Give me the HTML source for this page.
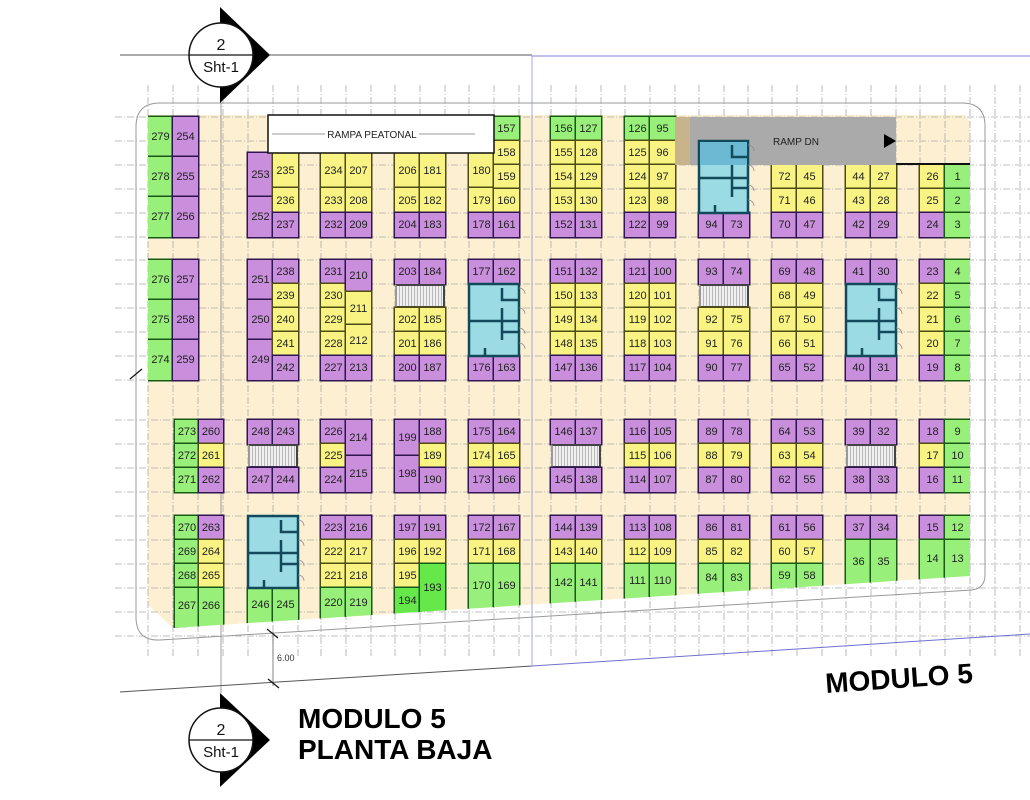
<!DOCTYPE html>
<html><head><meta charset="utf-8"><style>
body{margin:0;background:#fff;width:1030px;height:800px;overflow:hidden;position:relative;font-family:"Liberation Sans",sans-serif}
svg{position:absolute;left:0;top:0}
#cells{position:absolute;left:0;top:0;width:1030px;height:800px;clip-path:polygon(148px 115px,965px 115px,970px 122px,970px 576px,173px 628px,148px 605px)}
i{position:absolute;width:25px;height:24px;display:flex;align-items:center;justify-content:center;font-style:normal;font-size:11px;color:#222;box-sizing:border-box}
.p{background:#c98fdc;box-shadow:0 0 0 1.5px #2e1450}
.y{background:#f8f382;box-shadow:0 0 0 1.5px #4d4a12}
.g{background:#98f07a;box-shadow:0 0 0 1.5px #165a16}
.G{background:#66e84a;box-shadow:0 0 0 1.5px #165a16}
.s{position:absolute;height:24px;width:50px;background:repeating-linear-gradient(90deg,#f0f0f0 0 2px,#b8b8b8 2px 3px);border:2px solid #444;box-sizing:border-box;border-left-color:#999}
</style></head><body>
<svg width="1030" height="800">
<path d="M160 103H962Q985 103 985 126V575Q985 588 972 590L160 640Q136 641 136 617V127Q136 103 160 103Z" fill="none" stroke="#999" stroke-width="1"/>
<polygon points="148,115 965,115 970,122 970,576 173,628 148,605" fill="#fdefd2"/>
<g stroke="#aaa" stroke-width="0.8" stroke-dasharray="7 2 1 2">
<path d="M148 85V657M173 85V657M198 85V657M223 85V657M248 85V657M273 85V657M298 85V657M321 85V657M346 85V657M371 85V657M395 85V657M420 85V657M445 85V657M469 85V657M494 85V657M519 85V657M551 85V657M576 85V657M601 85V657M625 85V657M650 85V657M675 85V657M699 85V657M724 85V657M748 85V657M772 85V657M797 85V657M822 85V657M846 85V657M871 85V657M896 85V657M920 85V657M945 85V657M970 85V657M995 85V657M1020 85V657"/>
<path d="M115 117H1030M115 141H1030M115 165H1030M115 189H1030M115 213H1030M115 237H1030M115 260H1030M115 284H1030M115 308H1030M115 332H1030M115 356H1030M115 380H1030M115 420H1030M115 444H1030M115 468H1030M115 492H1030M115 516H1030M115 540H1030M115 564H1030M115 588H1030M115 612H1030M115 636H1030"/>
</g>
<line x1="221" y1="103" x2="221" y2="693" stroke="#888" stroke-width="0.8"/>
</svg>
<div id="cells">
<i class=g style=left:148px;top:117px;height:40px>279</i><i class=p style=left:173px;top:117px;height:40px>254</i>
<i class=g style=left:148px;top:157px;height:40px>278</i><i class=p style=left:173px;top:157px;height:40px>255</i>
<i class=g style=left:148px;top:197px;height:40px>277</i><i class=p style=left:173px;top:197px;height:40px>256</i>
<i class=p style=left:248px;top:153px;height:44px>253</i><i class=p style=left:248px;top:197px;height:40px>252</i>
<i class=y style=left:273px;top:153px;height:35px>235</i><i class=y style=left:273px;top:188px;height:25px>236</i><i class=p style=left:273px;top:213px>237</i>
<i class=y style=left:321px;top:153px;height:35px>234</i><i class=y style=left:346px;top:153px;height:35px>207</i>
<i class=y style=left:321px;top:188px;height:25px>233</i><i class=y style=left:346px;top:188px;height:25px>208</i>
<i class=p style=left:321px;top:213px>232</i><i class=p style=left:346px;top:213px>209</i>
<i class=y style=left:395px;top:153px;height:35px>206</i><i class=y style=left:420px;top:153px;height:35px>181</i>
<i class=y style=left:395px;top:188px;height:25px>205</i><i class=y style=left:420px;top:188px;height:25px>182</i>
<i class=p style=left:395px;top:213px>204</i><i class=p style=left:420px;top:213px>183</i>
<i class=y style=left:469px;top:153px;height:35px>180</i><i class=y style=left:469px;top:188px;height:25px>179</i><i class=p style=left:469px;top:213px>178</i>
<i class=g style=left:494px;top:117px>157</i><i class=y style=left:494px;top:141px>158</i><i class=y style=left:494px;top:165px>159</i><i class=y style=left:494px;top:189px>160</i><i class=p style=left:494px;top:213px>161</i>
<i class=g style=left:551px;top:117px>156</i><i class=g style=left:576px;top:117px>127</i>
<i class=y style=left:551px;top:141px>155</i><i class=y style=left:576px;top:141px>128</i>
<i class=y style=left:551px;top:165px>154</i><i class=y style=left:576px;top:165px>129</i>
<i class=y style=left:551px;top:189px>153</i><i class=y style=left:576px;top:189px>130</i>
<i class=p style=left:551px;top:213px>152</i><i class=p style=left:576px;top:213px>131</i>
<i class=g style=left:625px;top:117px>126</i><i class=g style=left:650px;top:117px>95</i>
<i class=y style=left:625px;top:141px>125</i><i class=y style=left:650px;top:141px>96</i>
<i class=y style=left:625px;top:165px>124</i><i class=y style=left:650px;top:165px>97</i>
<i class=y style=left:625px;top:189px>123</i><i class=y style=left:650px;top:189px>98</i>
<i class=p style=left:625px;top:213px>122</i><i class=p style=left:650px;top:213px>99</i>
<i class=p style=left:699px;top:213px>94</i><i class=p style=left:724px;top:213px>73</i>
<i class=y style=left:772px;top:165px>72</i><i class=y style=left:797px;top:165px>45</i>
<i class=y style=left:772px;top:189px>71</i><i class=y style=left:797px;top:189px>46</i>
<i class=p style=left:772px;top:213px>70</i><i class=p style=left:797px;top:213px>47</i>
<i class=y style=left:846px;top:165px>44</i><i class=y style=left:871px;top:165px>27</i>
<i class=y style=left:846px;top:189px>43</i><i class=y style=left:871px;top:189px>28</i>
<i class=p style=left:846px;top:213px>42</i><i class=p style=left:871px;top:213px>29</i>
<i class=y style=left:920px;top:165px>26</i><i class=g style=left:945px;top:165px>1</i>
<i class=y style=left:920px;top:189px>25</i><i class=g style=left:945px;top:189px>2</i>
<i class=p style=left:920px;top:213px>24</i><i class=g style=left:945px;top:213px>3</i>

<i class=g style=left:148px;top:260px;height:40px>276</i><i class=p style=left:173px;top:260px;height:40px>257</i>
<i class=g style=left:148px;top:300px;height:40px>275</i><i class=p style=left:173px;top:300px;height:40px>258</i>
<i class=g style=left:148px;top:340px;height:40px>274</i><i class=p style=left:173px;top:340px;height:40px>259</i>
<i class=p style=left:248px;top:260px;height:40px>251</i><i class=p style=left:248px;top:300px;height:40px>250</i><i class=p style=left:248px;top:340px;height:40px>249</i>
<i class=p style=left:273px;top:260px>238</i><i class=y style=left:273px;top:284px>239</i><i class=y style=left:273px;top:308px>240</i><i class=y style=left:273px;top:332px>241</i><i class=p style=left:273px;top:356px>242</i>
<i class=p style=left:321px;top:260px>231</i><i class=y style=left:321px;top:284px>230</i><i class=y style=left:321px;top:308px>229</i><i class=y style=left:321px;top:332px>228</i><i class=p style=left:321px;top:356px>227</i>
<i class=p style=left:346px;top:260px;height:32px>210</i><i class=y style=left:346px;top:292px;height:33px>211</i><i class=y style=left:346px;top:325px;height:31px>212</i><i class=p style=left:346px;top:356px>213</i>
<i class=p style=left:395px;top:260px>203</i><i class=p style=left:420px;top:260px>184</i>
<div class=s style=left:395px;top:284px></div>
<i class=y style=left:395px;top:308px>202</i><i class=y style=left:420px;top:308px>185</i>
<i class=y style=left:395px;top:332px>201</i><i class=y style=left:420px;top:332px>186</i>
<i class=p style=left:395px;top:356px>200</i><i class=p style=left:420px;top:356px>187</i>
<i class=p style=left:469px;top:260px>177</i><i class=p style=left:494px;top:260px>162</i>
<i class=p style=left:469px;top:356px>176</i><i class=p style=left:494px;top:356px>163</i>
<i class=p style=left:551px;top:260px>151</i><i class=p style=left:576px;top:260px>132</i>
<i class=y style=left:551px;top:284px>150</i><i class=y style=left:576px;top:284px>133</i>
<i class=y style=left:551px;top:308px>149</i><i class=y style=left:576px;top:308px>134</i>
<i class=y style=left:551px;top:332px>148</i><i class=y style=left:576px;top:332px>135</i>
<i class=p style=left:551px;top:356px>147</i><i class=p style=left:576px;top:356px>136</i>
<i class=p style=left:625px;top:260px>121</i><i class=p style=left:650px;top:260px>100</i>
<i class=y style=left:625px;top:284px>120</i><i class=y style=left:650px;top:284px>101</i>
<i class=y style=left:625px;top:308px>119</i><i class=y style=left:650px;top:308px>102</i>
<i class=y style=left:625px;top:332px>118</i><i class=y style=left:650px;top:332px>103</i>
<i class=p style=left:625px;top:356px>117</i><i class=p style=left:650px;top:356px>104</i>
<i class=p style=left:699px;top:260px>93</i><i class=p style=left:724px;top:260px>74</i>
<div class=s style=left:699px;top:284px></div>
<i class=y style=left:699px;top:308px>92</i><i class=y style=left:724px;top:308px>75</i>
<i class=y style=left:699px;top:332px>91</i><i class=y style=left:724px;top:332px>76</i>
<i class=p style=left:699px;top:356px>90</i><i class=p style=left:724px;top:356px>77</i>
<i class=p style=left:772px;top:260px>69</i><i class=p style=left:797px;top:260px>48</i>
<i class=y style=left:772px;top:284px>68</i><i class=y style=left:797px;top:284px>49</i>
<i class=y style=left:772px;top:308px>67</i><i class=y style=left:797px;top:308px>50</i>
<i class=y style=left:772px;top:332px>66</i><i class=y style=left:797px;top:332px>51</i>
<i class=p style=left:772px;top:356px>65</i><i class=p style=left:797px;top:356px>52</i>
<i class=p style=left:846px;top:260px>41</i><i class=p style=left:871px;top:260px>30</i>
<i class=p style=left:846px;top:356px>40</i><i class=p style=left:871px;top:356px>31</i>
<i class=p style=left:920px;top:260px>23</i><i class=g style=left:945px;top:260px>4</i>
<i class=y style=left:920px;top:284px>22</i><i class=g style=left:945px;top:284px>5</i>
<i class=y style=left:920px;top:308px>21</i><i class=g style=left:945px;top:308px>6</i>
<i class=y style=left:920px;top:332px>20</i><i class=g style=left:945px;top:332px>7</i>
<i class=p style=left:920px;top:356px>19</i><i class=g style=left:945px;top:356px>8</i>

<i class=g style=left:175px;top:420px;width:24px>273</i><i class=p style=left:199px;top:420px;width:24px>260</i>
<i class=g style=left:175px;top:444px;width:24px>272</i><i class=y style=left:199px;top:444px;width:24px>261</i>
<i class=g style=left:175px;top:468px;width:24px>271</i><i class=p style=left:199px;top:468px;width:24px>262</i>
<i class=p style=left:248px;top:420px>248</i><i class=p style=left:273px;top:420px>243</i>
<div class=s style=left:248px;top:444px></div>
<i class=p style=left:248px;top:468px>247</i><i class=p style=left:273px;top:468px>244</i>
<i class=p style=left:321px;top:420px>226</i><i class=y style=left:321px;top:444px>225</i><i class=p style=left:321px;top:468px>224</i>
<i class=p style=left:346px;top:420px;height:36px>214</i><i class=p style=left:346px;top:456px;height:36px>215</i>
<i class=p style=left:395px;top:420px;height:36px>199</i><i class=p style=left:395px;top:456px;height:36px>198</i>
<i class=p style=left:420px;top:420px>188</i><i class=y style=left:420px;top:444px>189</i><i class=p style=left:420px;top:468px>190</i>
<i class=p style=left:469px;top:420px>175</i><i class=p style=left:494px;top:420px>164</i>
<i class=y style=left:469px;top:444px>174</i><i class=y style=left:494px;top:444px>165</i>
<i class=p style=left:469px;top:468px>173</i><i class=p style=left:494px;top:468px>166</i>
<i class=p style=left:551px;top:420px>146</i><i class=p style=left:576px;top:420px>137</i>
<div class=s style=left:551px;top:444px></div>
<i class=p style=left:551px;top:468px>145</i><i class=p style=left:576px;top:468px>138</i>
<i class=p style=left:625px;top:420px>116</i><i class=p style=left:650px;top:420px>105</i>
<i class=y style=left:625px;top:444px>115</i><i class=y style=left:650px;top:444px>106</i>
<i class=p style=left:625px;top:468px>114</i><i class=p style=left:650px;top:468px>107</i>
<i class=p style=left:699px;top:420px>89</i><i class=p style=left:724px;top:420px>78</i>
<i class=y style=left:699px;top:444px>88</i><i class=y style=left:724px;top:444px>79</i>
<i class=p style=left:699px;top:468px>87</i><i class=p style=left:724px;top:468px>80</i>
<i class=p style=left:772px;top:420px>64</i><i class=p style=left:797px;top:420px>53</i>
<i class=y style=left:772px;top:444px>63</i><i class=y style=left:797px;top:444px>54</i>
<i class=p style=left:772px;top:468px>62</i><i class=p style=left:797px;top:468px>55</i>
<i class=p style=left:846px;top:420px>39</i><i class=p style=left:871px;top:420px>32</i>
<div class=s style=left:846px;top:444px></div>
<i class=p style=left:846px;top:468px>38</i><i class=p style=left:871px;top:468px>33</i>
<i class=p style=left:920px;top:420px>18</i><i class=g style=left:945px;top:420px>9</i>
<i class=y style=left:920px;top:444px>17</i><i class=g style=left:945px;top:444px>10</i>
<i class=p style=left:920px;top:468px>16</i><i class=g style=left:945px;top:468px>11</i>

<i class=g style=left:175px;top:516px;width:24px>270</i><i class=p style=left:199px;top:516px;width:24px>263</i>
<i class=g style=left:175px;top:540px;width:24px>269</i><i class=y style=left:199px;top:540px;width:24px>264</i>
<i class=g style=left:175px;top:564px;width:24px>268</i><i class=y style=left:199px;top:564px;width:24px>265</i>
<i class=g style=left:175px;top:588px;width:24px;height:40px;padding-bottom:4px>267</i><i class=g style=left:199px;top:588px;width:24px;height:40px;padding-bottom:4px>266</i>
<i class=g style=left:248px;top:588px;height:40px;padding-bottom:6px>246</i><i class=g style=left:273px;top:588px;height:40px;padding-bottom:6px>245</i>
<i class=p style=left:321px;top:516px>223</i><i class=p style=left:346px;top:516px>216</i>
<i class=y style=left:321px;top:540px>222</i><i class=y style=left:346px;top:540px>217</i>
<i class=y style=left:321px;top:564px>221</i><i class=y style=left:346px;top:564px>218</i>
<i class=g style=left:321px;top:588px;height:40px;padding-bottom:10px>220</i><i class=g style=left:346px;top:588px;height:40px;padding-bottom:10px>219</i>
<i class=p style=left:395px;top:516px>197</i><i class=p style=left:420px;top:516px>191</i>
<i class=y style=left:395px;top:540px>196</i><i class=y style=left:420px;top:540px>192</i>
<i class=y style=left:395px;top:564px>195</i><i class=G style=left:395px;top:588px;height:40px;padding-bottom:15px>194</i>
<i class=G style=left:420px;top:564px;height:60px;padding-bottom:12px>193</i>
<i class=p style=left:469px;top:516px>172</i><i class=p style=left:494px;top:516px>167</i>
<i class=y style=left:469px;top:540px>171</i><i class=y style=left:494px;top:540px>168</i>
<i class=g style=left:469px;top:564px;height:60px;padding-bottom:17px>170</i><i class=g style=left:494px;top:564px;height:60px;padding-bottom:17px>169</i>
<i class=p style=left:551px;top:516px>144</i><i class=p style=left:576px;top:516px>139</i>
<i class=y style=left:551px;top:540px>143</i><i class=y style=left:576px;top:540px>140</i>
<i class=g style=left:551px;top:564px;height:60px;padding-bottom:22px>142</i><i class=g style=left:576px;top:564px;height:60px;padding-bottom:22px>141</i>
<i class=p style=left:625px;top:516px>113</i><i class=p style=left:650px;top:516px>108</i>
<i class=y style=left:625px;top:540px>112</i><i class=y style=left:650px;top:540px>109</i>
<i class=g style=left:625px;top:564px;height:60px;padding-bottom:27px>111</i><i class=g style=left:650px;top:564px;height:60px;padding-bottom:27px>110</i>
<i class=p style=left:699px;top:516px>86</i><i class=p style=left:724px;top:516px>81</i>
<i class=y style=left:699px;top:540px>85</i><i class=y style=left:724px;top:540px>82</i>
<i class=g style=left:699px;top:564px;height:60px;padding-bottom:32px>84</i><i class=g style=left:724px;top:564px;height:60px;padding-bottom:32px>83</i>
<i class=p style=left:772px;top:516px>61</i><i class=p style=left:797px;top:516px>56</i>
<i class=y style=left:772px;top:540px>60</i><i class=y style=left:797px;top:540px>57</i>
<i class=g style=left:772px;top:564px;height:60px;padding-bottom:36px>59</i><i class=g style=left:797px;top:564px;height:60px;padding-bottom:36px>58</i>
<i class=p style=left:846px;top:516px>37</i><i class=p style=left:871px;top:516px>34</i>
<i class=g style=left:846px;top:540px;height:80px;padding-bottom:36px>36</i><i class=g style=left:871px;top:540px;height:80px;padding-bottom:36px>35</i>
<i class=p style=left:920px;top:516px>15</i><i class=g style=left:945px;top:516px>12</i>
<i class=g style=left:920px;top:540px;height:80px;padding-bottom:42px>14</i><i class=g style=left:945px;top:540px;height:80px;padding-bottom:42px>13</i>
</div>
<svg width="1030" height="800" font-family="Liberation Sans, sans-serif">
<rect x="268" y="115" width="226" height="38" fill="#fff" stroke="#111" stroke-width="1.5"/>
<line x1="272" y1="134" x2="475" y2="134" stroke="#777" stroke-width="0.8"/>
<rect x="325" y="128" width="94" height="12" fill="#fff"/>
<text x="372" y="138" font-size="10" text-anchor="middle" fill="#222">RAMPA PEATONAL</text>
<rect x="675" y="117" width="15" height="48" fill="#c8b48a"/>
<rect x="690" y="117" width="206" height="48" fill="#aaaaaa"/>
<text x="773" y="145" font-size="10" fill="#222">RAMP DN</text>
<polygon points="884,134 896,141 884,148" fill="#000"/>
<line x1="896" y1="164" x2="970" y2="164" stroke="#111" stroke-width="2"/>
<g fill="#9adbe4" stroke="#124a5c" stroke-width="2.5">
<rect x="699" y="141" width="49" height="72"/>
<rect x="469" y="284" width="50" height="72"/>
<rect x="846" y="284" width="50" height="72"/>
<rect x="248" y="516" width="50" height="72"/>
</g>
<rect x="700" y="142" width="47" height="23" fill="#6cb9d4"/>
<g fill="none" stroke="#124a5c" stroke-width="2.5">
<path d="M732 145v12h16M699 178h49M732 165v32M732 188h16M715 213v-8"/>
<path d="M502 288v12h17M469 321h50M502 308v32M502 332h17M485 356v-8"/>
<path d="M879 288v12h17M846 321h50M879 308v32M879 332h17M862 356v-8"/>
<path d="M281 520v12h17M248 553h50M281 540v32M281 564h17M264 588v-8"/>
</g>
<g fill="none" stroke="#888" stroke-width="0.8">
<path d="M748 145a6 6 0 0 1 6 6M748 165a6 6 0 0 1 6 6M748 185a6 6 0 0 1 6 6M748 200a6 6 0 0 1 6 6"/>
<path d="M519 288a6 6 0 0 1 6 6M519 308a6 6 0 0 1 6 6M519 328a6 6 0 0 1 6 6M519 343a6 6 0 0 1 6 6"/>
<path d="M896 288a6 6 0 0 1 6 6M896 308a6 6 0 0 1 6 6M896 328a6 6 0 0 1 6 6M896 343a6 6 0 0 1 6 6"/>
<path d="M298 520a6 6 0 0 1 6 6M298 540a6 6 0 0 1 6 6M298 560a6 6 0 0 1 6 6M298 575a6 6 0 0 1 6 6"/>
</g>
<line x1="120" y1="55" x2="532" y2="55" stroke="#555" stroke-width="1"/>
<line x1="532" y1="56" x2="1030" y2="56" stroke="#8080d8" stroke-width="1"/>
<line x1="532" y1="56" x2="532" y2="665" stroke="#9090e0" stroke-width="0.8"/>
<line x1="120" y1="692" x2="532" y2="666" stroke="#555" stroke-width="1"/>
<line x1="532" y1="666" x2="1030" y2="634" stroke="#7070d0" stroke-width="1"/>
<line x1="273" y1="632" x2="273" y2="686" stroke="#666" stroke-width="0.8"/>
<path d="M267 629l11 9M268 679l11 9M130 379l12-10" stroke="#111" stroke-width="1.2"/>
<text x="277" y="661" font-size="9" fill="#333">6.00</text>
<polygon points="220,7 270,55 220,103" fill="#000"/>
<circle cx="221" cy="55" r="32" fill="#fff" stroke="#111" stroke-width="1.5"/>
<line x1="189" y1="55" x2="253" y2="55" stroke="#111" stroke-width="1.2"/>
<text x="221" y="50" font-size="16" text-anchor="middle" fill="#111">2</text>
<text x="221" y="72" font-size="15" text-anchor="middle" fill="#111">Sht-1</text>
<polygon points="220,693 270,740 220,787" fill="#000"/>
<circle cx="221" cy="740" r="32" fill="#fff" stroke="#111" stroke-width="1.5"/>
<line x1="189" y1="740" x2="253" y2="740" stroke="#111" stroke-width="1.2"/>
<text x="221" y="735" font-size="16" text-anchor="middle" fill="#111">2</text>
<text x="221" y="757" font-size="15" text-anchor="middle" fill="#111">Sht-1</text>
<text x="298" y="728" font-size="28" font-weight="bold" fill="#000">MODULO 5</text>
<text x="298" y="759" font-size="28" font-weight="bold" fill="#000">PLANTA BAJA</text>
<text x="826" y="693" font-size="28" font-weight="bold" fill="#000" transform="rotate(-4 826 693)">MODULO 5</text>
</svg>
</body></html>
